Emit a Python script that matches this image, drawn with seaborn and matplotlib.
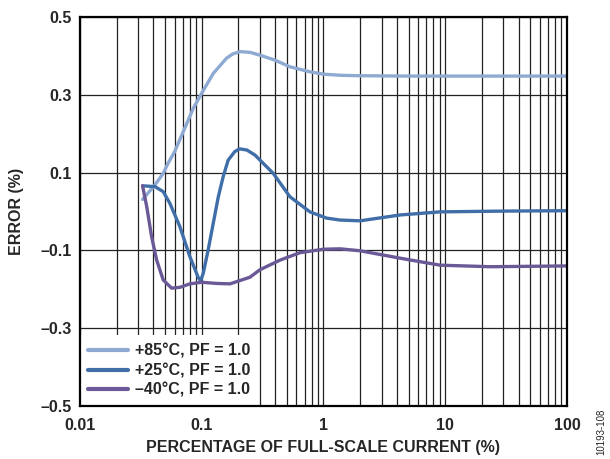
import numpy as np
import pandas as pd
import seaborn as sns
import matplotlib.pyplot as plt
from matplotlib.ticker import LogLocator, NullFormatter

# Values (current in % of full scale, error in %)
x_85 = [0.0327, 0.0413, 0.0483, 0.053, 0.060, 0.0662, 0.0853, 0.1, 0.1245,
        0.160, 0.18, 0.206, 0.25, 0.30, 0.40, 0.53, 0.774, 1.0, 1.4, 2.0,
        5.0, 10.0, 30.0, 100.0]
y_85 = [0.031, 0.068, 0.098, 0.124, 0.154, 0.185, 0.265, 0.304, 0.355,
        0.394, 0.405, 0.411, 0.409, 0.402, 0.389, 0.372, 0.359, 0.353, 0.350,
        0.349, 0.348, 0.348, 0.348, 0.348]

x_25 = [0.0327, 0.0413, 0.0483, 0.0548, 0.0662, 0.080, 0.0938, 0.098,
        0.103, 0.113, 0.1245, 0.137, 0.150, 0.165, 0.187, 0.205, 0.235,
        0.274, 0.387, 0.53, 0.774, 1.06, 1.37, 2.0, 4.25, 9.06, 30.0, 100.0]
y_25 = [0.066, 0.064, 0.051, 0.021, -0.039, -0.116, -0.170, -0.178,
        -0.159, -0.099, -0.030, 0.038, 0.089, 0.132, 0.154, 0.161, 0.158,
        0.145, 0.098, 0.038, -0.001, -0.017, -0.022, -0.024, -0.009, -0.001,
        0.001, 0.002]

x_m40 = [0.0327, 0.0354, 0.0388, 0.0427, 0.0483, 0.0566, 0.0662, 0.080,
         0.1, 0.133, 0.171, 0.249, 0.30, 0.44, 0.64, 1.0, 1.37, 2.0, 4.25,
         9.06, 23.3, 100.0]
y_m40 = [0.066, 0.012, -0.065, -0.125, -0.176, -0.197, -0.195, -0.186,
         -0.182, -0.185, -0.186, -0.169, -0.150, -0.125, -0.106, -0.097,
         -0.096, -0.101, -0.120, -0.138, -0.142, -0.140]

labels = ['+85°C, PF = 1.0', '+25°C, PF = 1.0', '\u201340°C, PF = 1.0']
colors = ['#8eaad3', '#3f6ea8', '#6b5897']

df = pd.concat([
    pd.DataFrame({'current': x_85, 'error': y_85, 'series': labels[0]}),
    pd.DataFrame({'current': x_25, 'error': y_25, 'series': labels[1]}),
    pd.DataFrame({'current': x_m40, 'error': y_m40, 'series': labels[2]}),
])

sns.set_theme(style='white')
plt.rcParams['font.family'] = ['Liberation Sans', 'DejaVu Sans']
plt.rcParams['font.weight'] = 'bold'

fig = plt.figure(figsize=(6.1, 4.59), dpi=100)
ax = fig.add_axes([0.131, 0.1155, 0.7985, 0.8475])

sns.lineplot(data=df, x='current', y='error', hue='series',
             palette=dict(zip(labels, colors)), estimator=None,
             linewidth=2.4, ax=ax, zorder=3)

ax.set_xscale('log')
ax.set_xlim(0.01, 100)
ax.set_ylim(-0.5, 0.5)

ax.set_xticks([0.01, 0.1, 1, 10, 100])
ax.set_xticklabels(['0.01', '0.1', '1', '10', '100'])
ax.xaxis.set_minor_locator(LogLocator(base=10, subs=range(2, 10)))
ax.xaxis.set_minor_formatter(NullFormatter())
yt = [0.5, 0.3, 0.1, -0.1, -0.3, -0.5]
ax.set_yticks(yt)
ax.set_yticklabels(['0.5', '0.3', '0.1', '\u20130.1', '\u20130.3', '\u20130.5'])

ax.grid(True, which='both', axis='x', color='#222222', linewidth=0.9)
ax.grid(True, which='major', axis='y', color='#222222', linewidth=0.9)
ax.tick_params(which='both', length=0, labelsize=11.5)
ax.tick_params(axis='x', pad=9)
ax.tick_params(axis='y', pad=6)
for lbl in ax.get_xticklabels() + ax.get_yticklabels():
    lbl.set_fontweight('bold')

for s in ax.spines.values():
    s.set_color('black')
    s.set_linewidth(1.6)
    s.set_zorder(5)

ax.set_xlabel('PERCENTAGE OF FULL-SCALE CURRENT (%)', fontsize=11.5,
              fontweight='bold', labelpad=5)
ax.set_ylabel('ERROR (%)', fontsize=11.5, fontweight='bold', labelpad=12)

leg = ax.legend(loc='lower left', frameon=True, fontsize=11.5,
                handlelength=2.5, labelspacing=0.3, borderpad=0.5,
                borderaxespad=0.0, handletextpad=0.45)
leg.get_frame().set_facecolor('white')
leg.get_frame().set_edgecolor('none')
leg.get_frame().set_alpha(1)
leg.get_frame().set_boxstyle('square', pad=0)
for t in leg.get_texts():
    t.set_fontweight('bold')
for h in leg.get_lines():
    h.set_linewidth(3.0)
leg.set_zorder(4)

fig.text(0.985, 0.06, '10193-108', rotation=90, fontsize=7,
         fontweight='normal', ha='center', va='center')

fig.savefig('out.png', dpi=100)
